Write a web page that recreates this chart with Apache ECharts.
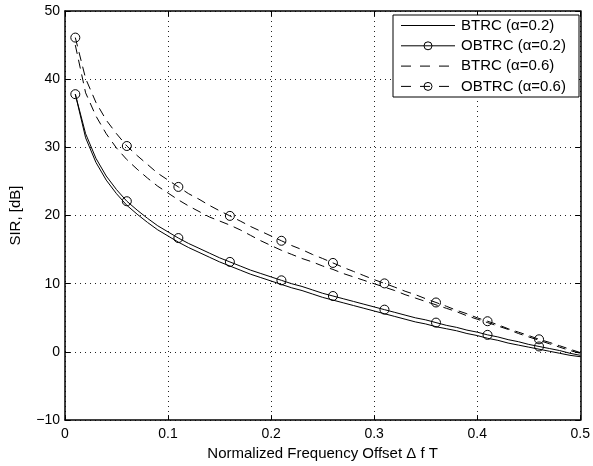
<!DOCTYPE html>
<html>
<head>
<meta charset="utf-8">
<script src="https://cdn.jsdelivr.net/npm/echarts@6/dist/echarts.min.js"></script>
<style>
  html, body { margin: 0; padding: 0; background: #fff; }
  #chart { width: 593px; height: 466px; }
</style>
</head>
<body>
<div id="chart"></div>
<script>
// normalized frequency offset (x)
const offsets = [
  0.01, 0.02, 0.03, 0.04, 0.05, 0.06, 0.07, 0.08, 0.09, 0.10,
  0.11, 0.12, 0.13, 0.14, 0.15, 0.16, 0.17, 0.18, 0.19, 0.20,
  0.21, 0.22, 0.23, 0.24, 0.25, 0.26, 0.27, 0.28, 0.29, 0.30,
  0.31, 0.32, 0.33, 0.34, 0.35, 0.36, 0.37, 0.38, 0.39, 0.40,
  0.41, 0.42, 0.43, 0.44, 0.45, 0.46, 0.47, 0.48, 0.49, 0.50
]
// SIR values, dB
const btrc02 = [
  37.8, 31.4, 27.8, 25.2, 23.2, 21.5, 20.2, 19.0, 17.9, 17.0,
  16.1, 15.3, 14.6, 13.9, 13.2, 12.6, 12.0, 11.4, 10.9, 10.4,
  9.9, 9.4, 9.0, 8.5, 8.0, 7.6, 7.2, 6.8, 6.4, 6.0,
  5.6, 5.2, 4.8, 4.4, 4.1, 3.7, 3.4, 3.1, 2.7, 2.4,
  2.0, 1.7, 1.3, 1.0, 0.7, 0.4, 0.1, -0.2, -0.5, -0.7
]
const obtrc02 = [
  37.8, 32.0, 28.4, 25.8, 23.8, 22.1, 20.8, 19.6, 18.5, 17.6,
  16.7, 15.9, 15.2, 14.5, 13.8, 13.2, 12.6, 12.0, 11.5, 11.0,
  10.5, 10.0, 9.6, 9.1, 8.6, 8.2, 7.8, 7.4, 7.0, 6.6,
  6.2, 5.8, 5.4, 5.0, 4.7, 4.3, 3.9, 3.6, 3.2, 2.9,
  2.5, 2.2, 1.8, 1.5, 1.1, 0.8, 0.5, 0.2, -0.2, -0.5
]
const btrc06 = [
  45.0, 38.0, 34.6, 32.0, 29.9, 28.2, 26.8, 25.5, 24.3, 23.3,
  22.3, 21.4, 20.6, 19.8, 19.2, 18.6, 17.9, 17.1, 16.3, 15.6,
  14.9, 14.3, 13.7, 13.2, 12.6, 12.1, 11.5, 11.0, 10.5, 10.0,
  9.5, 9.0, 8.4, 7.9, 7.4, 6.9, 6.4, 5.9, 5.3, 4.8,
  4.3, 3.8, 3.3, 2.7, 2.2, 1.7, 1.2, 0.7, 0.2, -0.2
]
const obtrc06 = [
  46.1, 40.1, 36.6, 34.0, 32.0, 30.2, 28.8, 27.5, 26.2, 25.2,
  24.2, 23.2, 22.4, 21.5, 20.7, 19.95, 19.2, 18.4, 17.7, 17.0,
  16.3, 15.6, 15.0, 14.3, 13.7, 13.05, 12.4, 11.8, 11.2, 10.6,
  10.05, 9.5, 8.9, 8.4, 7.8, 7.25, 6.7, 6.1, 5.6, 5.0,
  4.5, 4.0, 3.4, 2.9, 2.4, 1.85, 1.4, 0.9, 0.4, -0.1
]
// offsets where circle markers are drawn
const markerOffsets = [0.01, 0.06, 0.11, 0.16, 0.21, 0.26, 0.31, 0.36, 0.41, 0.46]
const xTicks = [0, 0.1, 0.2, 0.3, 0.4, 0.5]
const yTicks = [-10, 0, 10, 20, 30, 40, 50]
const seriesNames = ['BTRC (\u03b1=0.2)', 'OBTRC (\u03b1=0.2)', 'BTRC (\u03b1=0.6)', 'OBTRC (\u03b1=0.6)']

const FONT = 'Liberation Sans'
const dash = [9, 6]
const legendDash = [10, 9]
const styles = [
  { type: 'solid', marker: false },
  { type: 'solid', marker: true },
  { type: dash, marker: false },
  { type: dash, marker: true }
]
const values = [btrc02, obtrc02, btrc06, obtrc06]

const isMarker = i => markerOffsets.some(m => Math.abs(m - offsets[i]) < 1e-9)

const series = values.map((vals, k) => ({
  name: seriesNames[k],
  type: 'line',
  data: vals.map((v, i) => [offsets[i], v]),
  showSymbol: styles[k].marker,
  showAllSymbol: true,
  symbol: styles[k].marker ? (val, params) => (isMarker(params.dataIndex) ? 'circle' : 'none') : 'none',
  symbolSize: 9,
  itemStyle: { color: 'transparent', borderColor: '#000', borderWidth: 1 },
  lineStyle: { color: '#000', width: 1, type: styles[k].type },
  animation: false,
  silent: true,
  z: 3
}))

const minus = v => String(v).replace('-', '\u2212')

const axisBase = {
  axisLine: { show: true, onZero: false, lineStyle: { color: '#000', width: 1.5 } },
  axisTick: { show: true, inside: true, length: 5, lineStyle: { color: '#000', width: 1 } },
  splitLine: { show: false }
}

// legend drawn with graphic elements, MATLAB-style box
const legend = { left: 393, top: 15, width: 186, height: 82, rowTop: 25.5, rowStep: 20.3, lineX1: 401, lineX2: 455, textX: 461 }
const legendEls = [{
  type: 'rect',
  shape: { x: legend.left, y: legend.top, width: legend.width, height: legend.height },
  style: { fill: '#fff', stroke: '#000', lineWidth: 1 },
  z: 10
}]
seriesNames.forEach((name, k) => {
  const y = legend.rowTop + k * legend.rowStep
  legendEls.push({
    type: 'line',
    shape: { x1: legend.lineX1, y1: y, x2: legend.lineX2, y2: y },
    style: { stroke: '#000', lineWidth: 1, lineDash: styles[k].type === 'solid' ? null : legendDash },
    z: 11
  })
  if (styles[k].marker) {
    legendEls.push({
      type: 'circle',
      shape: { cx: (legend.lineX1 + legend.lineX2) / 2, cy: y, r: 4 },
      style: { fill: 'transparent', stroke: '#000', lineWidth: 1 },
      z: 12
    })
  }
  legendEls.push({
    type: 'text',
    x: legend.textX,
    y: y,
    style: { text: name, fill: '#000', font: '15px "' + FONT + '"', verticalAlign: 'middle' },
    z: 12
  })
})

const option = {
  backgroundColor: '#fff',
  animation: false,
  textStyle: { fontFamily: FONT },
  grid: { left: 63, right: 10, top: 11, bottom: 45, show: false },
  xAxis: [
    {
      ...axisBase,
      type: 'value',
      min: xTicks[0],
      max: xTicks[xTicks.length - 1],
      interval: 0.1,
      position: 'bottom',
      name: 'Normalized Frequency Offset \u0394 f T',
      nameLocation: 'middle',
      nameGap: 25,
      nameTextStyle: { color: '#000', fontSize: 15, fontFamily: FONT },
      axisLabel: { color: '#000', fontSize: 14, fontFamily: FONT, margin: 7 },
      splitLine: { show: true, lineStyle: { color: '#222', width: 1, type: [1, 4] } }
    },
    {
      ...axisBase,
      type: 'value',
      min: xTicks[0],
      max: xTicks[xTicks.length - 1],
      interval: 0.1,
      position: 'top',
      axisLabel: { show: false }
    }
  ],
  yAxis: [
    {
      ...axisBase,
      type: 'value',
      min: yTicks[0],
      max: yTicks[yTicks.length - 1],
      interval: 10,
      position: 'left',
      name: 'SIR, [dB]',
      nameLocation: 'middle',
      nameGap: 42,
      nameTextStyle: { color: '#000', fontSize: 15, fontFamily: FONT },
      axisLabel: { color: '#000', fontSize: 14, fontFamily: FONT, margin: 5, formatter: minus },
      splitLine: { show: true, lineStyle: { color: '#222', width: 1, type: [1, 4] } }
    },
    {
      ...axisBase,
      type: 'value',
      min: yTicks[0],
      max: yTicks[yTicks.length - 1],
      interval: 10,
      position: 'right',
      axisLabel: { show: false }
    }
  ],
  series: series,
  graphic: legendEls
}

const chart = echarts.init(document.getElementById('chart'), null, { renderer: 'canvas' })
chart.setOption(option)
</script>
</body>
</html>
